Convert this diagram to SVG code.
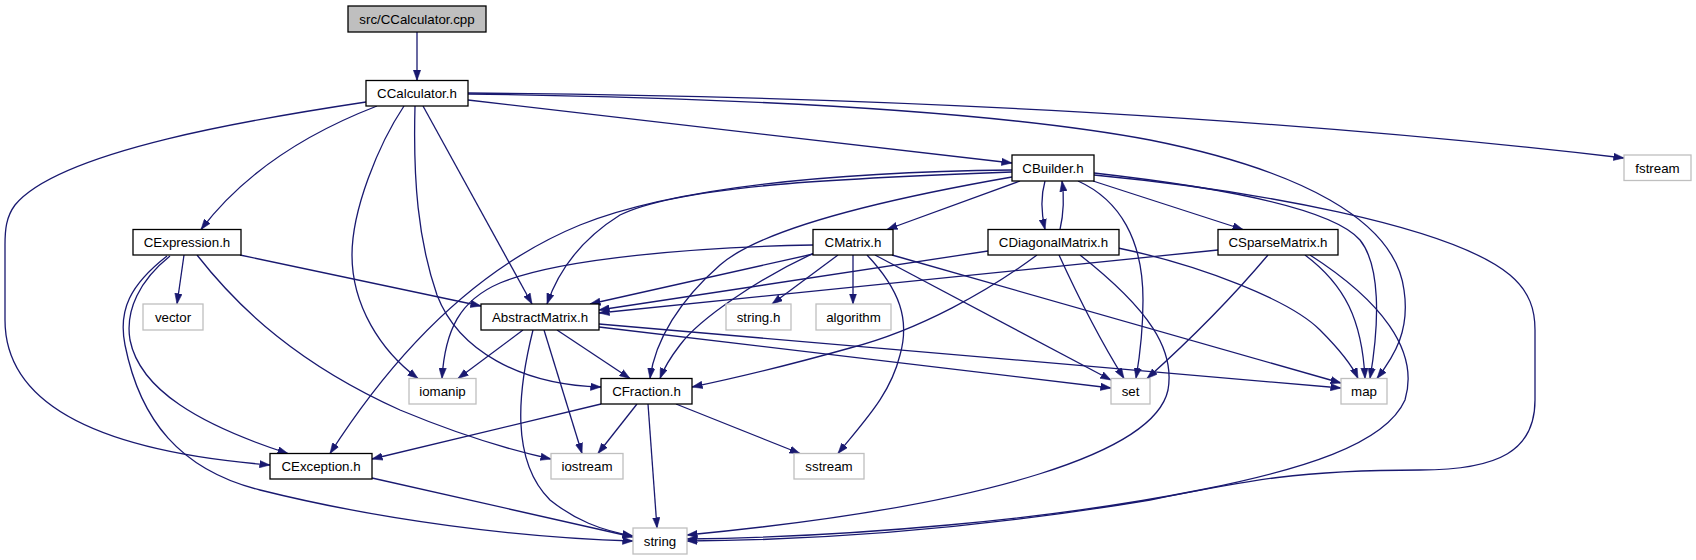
<svg xmlns="http://www.w3.org/2000/svg" width="1696" height="560" viewBox="0 0 1696 560">
<style>
.n rect{fill:#fff;stroke:#000;stroke-width:1.3}
.e rect{fill:#fff;stroke:#bfbfbf;stroke-width:1.3}
.r rect{fill:#bfbfbf;stroke:#000;stroke-width:1.3}
text{font-family:"Liberation Sans",Arial,sans-serif;font-size:13.3px;fill:#000;text-anchor:middle}
#edges path{fill:none;stroke:#191970;stroke-width:1.3;marker-end:url(#ah)}
</style>
<defs>
<marker id="ah" markerUnits="userSpaceOnUse" markerWidth="11" markerHeight="8" refX="10" refY="3.5" orient="auto" viewBox="0 0 10.5 7">
<path d="M0,0 L10,3.5 L0,7 z" fill="#191970" stroke="#191970" stroke-width="0.5"/>
</marker>
</defs>
<rect width="1696" height="560" fill="#fff"/>
<g id="edges">
<path d="M417,32 L417,80.5"/>
<path d="M377,106 C320,128 250,165 201,229.5"/>
<path d="M366,102 C260,118 60,150 15,205 C6,217 5,230 5,245 L5,320 C5,410 110,452 270,465"/>
<path d="M404,106 C378,145 352,210 352,255 C352,305 380,350 418,378.5"/>
<path d="M415,106 C413,180 418,240 437,295 C458,350 520,385 601,387"/>
<path d="M423,106 L532,304"/>
<path d="M468,100 L1012,163"/>
<path d="M468,94 C750,98 1000,112 1150,140 C1300,170 1395,220 1404,290 C1410,330 1395,355 1377,378.5"/>
<path d="M468,93 C900,96 1300,120 1624,158"/>
<path d="M1020,181 L887,229.5"/>
<path d="M1045,181 C1041,195 1041,212 1045,229.5"/>
<path d="M1060,229.5 C1064,212 1064,195 1062,181"/>
<path d="M1093,181 L1243,229.5"/>
<path d="M1012,170 C850,172 680,185 580,225 C470,270 390,360 330,453.5"/>
<path d="M1012,172 C850,178 680,185 620,215 C580,240 558,272 547,304"/>
<path d="M1012,177 C880,200 760,230 720,265 C680,300 655,340 650,378.5"/>
<path d="M1078,181 C1120,200 1143,240 1143,300 C1143,330 1140,355 1136,378.5"/>
<path d="M1094,173 C1200,185 1330,205 1360,240 C1380,265 1380,320 1370,378.5"/>
<path d="M1094,175 C1250,190 1450,225 1510,275 C1530,292 1535,310 1535,330 L1535,400 C1535,450 1500,470 1420,470 C1300,470 1250,480 1150,500 C1000,525 850,540 687,541"/>
<path d="M813,254 L590,304"/>
<path d="M814,253 C760,278 700,318 680,345 C670,358 664,368 660,378.5"/>
<path d="M813,245 C700,247 560,258 500,283 C460,300 445,330 442,378.5"/>
<path d="M838,255 L772,304"/>
<path d="M853,255 L853,304"/>
<path d="M867,255 C900,290 910,320 900,355 C890,395 865,420 838,453.5"/>
<path d="M875,255 L1111,380"/>
<path d="M892,255 L1341,383"/>
<path d="M988,251 L599,310"/>
<path d="M1037,255 C990,290 920,330 850,348 C800,362 750,375 692,387"/>
<path d="M1059,255 C1075,290 1100,340 1124,378.5"/>
<path d="M1118,248 C1200,265 1290,300 1320,330 C1340,350 1352,365 1358,378.5"/>
<path d="M1080,255 C1150,310 1175,350 1168,390 C1155,450 1000,505 687,535"/>
<path d="M1218,250 L599,313"/>
<path d="M1268,255 C1230,300 1190,340 1147,378.5"/>
<path d="M1305,255 C1345,285 1362,320 1365,378.5"/>
<path d="M1310,255 C1380,300 1420,350 1405,400 C1385,445 1300,470 1200,490 C1050,520 850,537 687,539"/>
<path d="M523,330 L458,378.5"/>
<path d="M557,330 L630,378.5"/>
<path d="M544,330 L582,453.5"/>
<path d="M533,330 C518,390 510,460 550,500 C575,520 600,530 633,536"/>
<path d="M599,327 L1111,388"/>
<path d="M599,324 L1341,388"/>
<path d="M601,404 L372,459"/>
<path d="M637,404 L598,453.5"/>
<path d="M676,404 L800,453.5"/>
<path d="M648,404 L657,528"/>
<path d="M372,478 L633,537"/>
<path d="M240,255 L481,306"/>
<path d="M184,255 L177,304"/>
<path d="M170,256 C140,280 125,310 130,340 C140,390 200,425 288,453.5"/>
<path d="M167,256 C130,285 118,310 125,345 C140,420 180,470 260,490 C380,520 520,538 633,541"/>
<path d="M197,255 C240,310 300,365 400,410 C460,435 510,450 551,459"/>
</g>
<g id="node-cpp" class="r"><rect x="348" y="6" width="138" height="26"/><text x="417" y="23.5">src/CCalculator.cpp</text></g>
<g id="node-CCalculator" class="n"><rect x="366" y="80.5" width="102" height="25.5"/><text x="417" y="98">CCalculator.h</text></g>
<g id="node-CBuilder" class="n"><rect x="1012" y="155" width="82" height="26"/><text x="1053" y="172.5">CBuilder.h</text></g>
<g id="node-fstream" class="e"><rect x="1624" y="155" width="67" height="25.5"/><text x="1657.5" y="172.5">fstream</text></g>
<g id="node-CExpression" class="n"><rect x="133" y="229.5" width="108" height="25.5"/><text x="187" y="247">CExpression.h</text></g>
<g id="node-CMatrix" class="n"><rect x="813" y="229.5" width="80" height="25.5"/><text x="853" y="247">CMatrix.h</text></g>
<g id="node-CDiagonalMatrix" class="n"><rect x="988" y="229.5" width="131" height="25.5"/><text x="1053.5" y="247">CDiagonalMatrix.h</text></g>
<g id="node-CSparseMatrix" class="n"><rect x="1218" y="229.5" width="120" height="25.5"/><text x="1278" y="247">CSparseMatrix.h</text></g>
<g id="node-vector" class="e"><rect x="143" y="304" width="60" height="26"/><text x="173" y="321.5">vector</text></g>
<g id="node-AbstractMatrix" class="n"><rect x="481" y="304" width="118" height="26"/><text x="540" y="321.5">AbstractMatrix.h</text></g>
<g id="node-string-h" class="e"><rect x="726" y="304" width="65" height="26"/><text x="758.5" y="321.5">string.h</text></g>
<g id="node-algorithm" class="e"><rect x="816" y="304" width="75" height="26"/><text x="853.5" y="321.5">algorithm</text></g>
<g id="node-iomanip" class="e"><rect x="409" y="378.5" width="67" height="25.5"/><text x="442.5" y="396">iomanip</text></g>
<g id="node-CFraction" class="n"><rect x="601" y="378.5" width="91" height="25.5"/><text x="646.5" y="396">CFraction.h</text></g>
<g id="node-set" class="e"><rect x="1111" y="378.5" width="39" height="25.5"/><text x="1130.5" y="396">set</text></g>
<g id="node-map" class="e"><rect x="1341" y="378.5" width="46" height="25.5"/><text x="1364" y="396">map</text></g>
<g id="node-CException" class="n"><rect x="270" y="453.5" width="102" height="25.5"/><text x="321" y="471">CException.h</text></g>
<g id="node-iostream" class="e"><rect x="551" y="453.5" width="72" height="25.5"/><text x="587" y="471">iostream</text></g>
<g id="node-sstream" class="e"><rect x="794" y="453.5" width="70" height="25.5"/><text x="829" y="471">sstream</text></g>
<g id="node-string" class="e"><rect x="633" y="528" width="54" height="26"/><text x="660" y="545.5">string</text></g>
</svg>
